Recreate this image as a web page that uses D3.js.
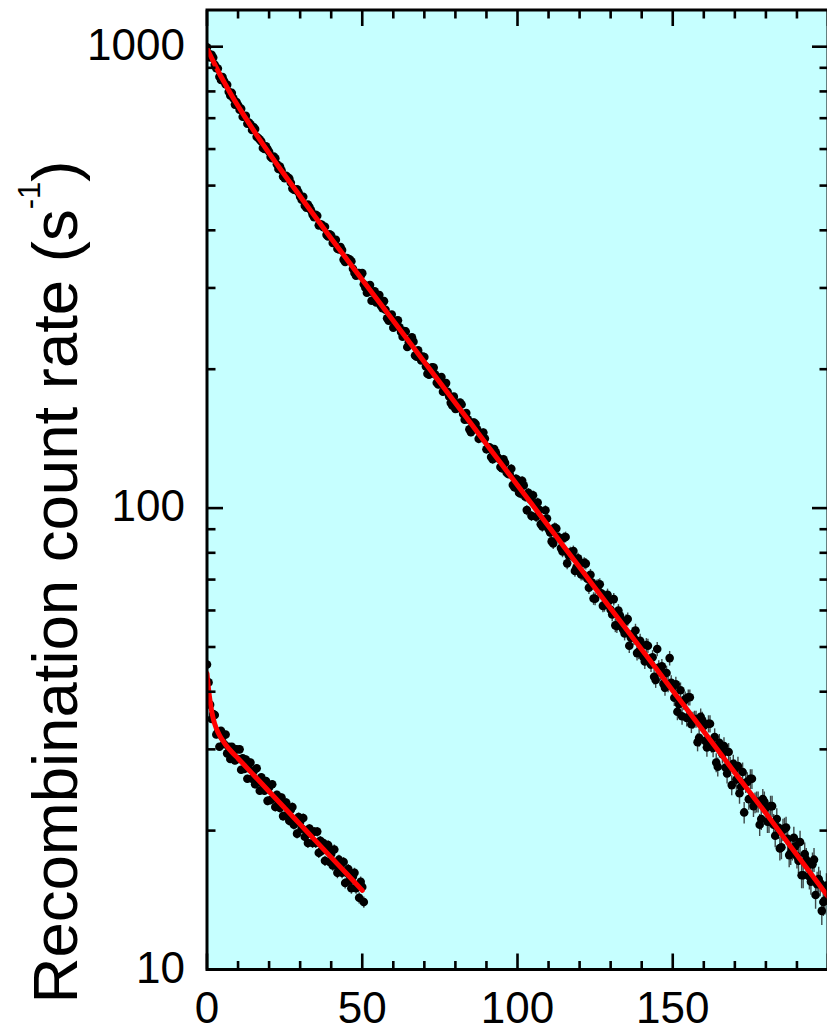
<!DOCTYPE html>
<html>
<head>
<meta charset="utf-8">
<script src="https://cdn.jsdelivr.net/npm/d3@7"></script>
<style>
  html, body { margin: 0; padding: 0; background: #fff; }
  svg { display: block; }
  text { font-family: "Liberation Sans", Arial, Helvetica, sans-serif; fill: #000; }
</style>
</head>
<body>
<svg id="chart" width="827" height="1031"></svg>
<script>
// Recombination count rate vs. storage time (s); two measurements.
// Upper run: half-second bins from t = 0 s.
const upperT0 = 0, upperDt = 0.5;
const upperRate = [
  997, 967, 948, 960, 947, 914, 898, 897, 861, 847,
  859, 843, 829, 827, 799, 784, 794, 773, 749, 759,
  747, 730, 734, 705, 704, 708, 681, 685, 679, 660,
  670, 663, 638, 634, 629, 623, 603, 600, 608, 600,
  592, 577, 573, 578, 573, 556, 543, 550, 540, 523,
  519, 525, 521, 518, 507, 493, 490, 489, 491, 483,
  473, 466, 473, 452, 448, 455, 449, 442, 433, 427,
  432, 430, 410, 412, 411, 406, 407, 391, 388, 392,
  389.6, 375.6, 378.4, 381.4, 364.8, 363.6, 368, 362.4, 345.6, 341.4,
  348.4, 347, 345.6, 342.8, 330.2, 323.2, 319, 323.2, 323.2, 318.9,
  323, 305.5, 300.3, 292.9, 300, 304.3, 281.4, 293.3, 295, 279,
  286.2, 289.7, 274.5, 271.3, 280.9, 269.1, 257.9, 254.9, 261.4, 262.8,
  246.1, 247.8, 254.6, 255.2, 246.5, 240.9, 235.3, 242.0, 241.5, 223.4,
  228.8, 230.3, 234.6, 229.5, 214.2, 212.9, 219.7, 213.9, 209.0, 213.1,
  212.6, 202.8, 195.5, 194.5, 200.8, 202.0, 201.6, 194.8, 187.0, 185.3,
  189.6, 192.3, 178.8, 180.1, 186.6, 178.6, 174.5, 169.1, 166.8, 174.4,
  164.1, 164.5, 168.4, 169.4, 167.7, 159.9, 155.5, 160.7, 155.7, 148.2,
  146.1, 153.0, 153.2, 152.2, 148.2, 141.3, 142.1, 142.0, 145.8, 141.5,
  134.1, 134.5, 135.4, 129.0, 127.6, 134.2, 132.1, 129.2, 127.9, 122.8,
  122.1, 127.6, 125.3, 119.5, 118.6, 118.6, 121.7, 112.2, 111.0, 115.7,
  115.1, 108.0, 107.6, 114.6, 112.0, 105.8, 99.0, 107.9, 104.7, 96.2,
  106.6, 102.2, 95.8, 102.8, 99.1, 92.3, 91.3, 94.2, 98.9, 94.9,
  90.1, 88.6, 84.7, 83.8, 90.7, 90.3, 86.5, 86.2, 81.9, 80.5,
  86.3, 86.6, 75.9, 79.0, 80.2, 78.9, 80.7, 73.1, 74.4, 77.8,
  75.9, 71.8, 71.9, 76.1, 75.8, 70.3, 67.2, 71.7, 69.0, 63.7,
  63.6, 67.9, 68.1, 68.4, 65.4, 61.4, 61.6, 62.6, 64.9, 63.0,
  60.2, 58.8, 63.5, 55.7, 55.5, 60.0, 58.5, 57.2, 54.6, 53.5,
  57.0, 57.5, 50.3, 52.4, 53.3, 52.3, 54.3, 48.5, 48.8, 51.6,
  50.5, 47.6, 46.5, 50.5, 50.3, 46.6, 45.8, 47.5, 43.1, 42.4,
  49.5, 45.1, 44.0, 45.4, 41.6, 40.8, 43.9, 41.5, 47.3, 41.8,
  41.0, 38.8, 41.5, 36.2, 37.6, 40.3, 35.4, 38.1, 38.5, 35.1,
  38.9, 38.9, 34.0, 34.7, 34.9, 34.9, 31.1, 31.8, 35.3, 34.7,
  33.7, 31.3, 30.3, 34.1, 34.1, 30.9, 30.2, 31.9, 28.1, 27.5,
  31.0, 30.1, 29.3, 30.5, 27.4, 26.6, 29.6, 27.6, 25.1, 27.9,
  27.2, 25.8, 27.6, 24.1, 24.9, 26.8, 21.9, 25.4, 25.5, 23.4,
  25.9, 25.9, 22.6, 23.0, 23.1, 23.1, 20.6, 21.2, 23.4, 23.1,
  22.4, 20.9, 20.9, 22.6, 22.6, 20.6, 19.5, 21.2, 20.3, 18.3,
  18.4, 20.1, 20.2, 20.3, 19.2, 17.7, 17.9, 18.3, 19.3, 18.5,
  17.6, 17.2, 18.9, 16.0, 16.0, 17.8, 17.3, 16.8, 15.9, 15.5,
  16.9, 17.3, 14.5, 15.3, 15.7, 15.4, 13.4, 14.0, 14.1, 15.2,
  14.9
];
// Lower run: half-second bins from t = 0 s.
const lowerT0 = 0, lowerDt = 0.5;
const lowerRate = [
  45.8, 41.9, 37.5, 34.9, 35.8, 35.6, 32.3, 32.7, 30.4, 32.9,
  31.9, 30.8, 32.3, 29.4, 30.4, 28.6, 30.4, 29.7, 28.4, 30.0,
  28.6, 30.0, 27.1, 28.7, 27.2, 28.5, 25.9, 27.3, 28.1, 25.9,
  26.9, 25.2, 27.3, 25.5, 24.4, 26.1, 25.2, 24.4, 25.6, 23.2,
  24.8, 23.3, 25.2, 23.5, 22.5, 23.9, 23.2, 22.4, 23.6, 21.5,
  22.7, 23.0, 21.7, 21.0, 22.2, 22.5, 20.6, 21.15, 19.7, 21.4,
  20.9, 20.2, 21.3, 19.4, 20.0, 18.8, 20.2, 19.7, 18.8, 19.9,
  18.8, 19.9, 17.9, 19.0, 18.1, 18.8, 17.2, 18.2, 18.6, 17.1,
  17.8, 16.8, 18.2, 16.8, 16.2, 17.3, 16.7, 16.2, 17.1, 15.4,
  16.2, 16.5, 15.6, 15.0, 15.9, 16.2, 15.0, 15.2, 14.3, 15.5,
  15.1, 14.0
];
// Effective exposure (s) used for the Poisson error bars of each run.
const upperExposure = 16;
const lowerExposure = 90;

// Fitted decay curves (red).
const upperFitT = [0, 2, 4, 6, 8, 10, 12, 15, 20, 25, 30, 40, 50, 60, 70, 80, 90, 100,
                   110, 120, 130, 140, 150, 160, 170, 180, 190, 200];
const upperFit  = [991, 930, 875, 827, 783, 744, 708, 659, 588, 527, 474, 384, 312.5, 254.6,
                   207.4, 169.0, 137.6, 112.1, 91.3, 74.4, 60.6, 49.4, 40.2, 32.8, 26.7,
                   21.8, 17.7, 14.4];
const lowerFitT = [0, 0.5, 1, 1.5, 2, 3, 4, 5, 6, 8, 10, 15, 20, 25, 30, 35, 40, 45, 50];
const lowerFit  = [43.8, 40.5, 38.1, 36.3, 35.0, 33.3, 32.2, 31.4, 30.7, 29.6, 28.67,
                   26.4, 24.32, 22.4, 20.63, 19.0, 17.5, 16.12, 14.84];

// Axis ticks
const xTicks = [0, 50, 100, 150];
const yTickLabels = ["10", "100", "1000"];
const yTicks = [10, 100, 1000];
const yTitle = "Recombination count rate (s";
const yTitleSup = "-1";

const svg = d3.select("#chart");
const plotL = 207, plotR = 828, plotT = 10, plotB = 969.5;

const x = d3.scaleLinear().domain([0, 200]).range([plotL, plotR]);
const y = d3.scaleLog().domain([10, 1201]).range([plotB, plotT]);

svg.append("defs").append("clipPath").attr("id", "plotClip")
  .append("rect").attr("x", plotL).attr("y", plotT)
  .attr("width", plotR - plotL).attr("height", plotB - plotT);

// Plot background
svg.append("rect").attr("x", plotL).attr("y", plotT)
  .attr("width", plotR - plotL).attr("height", plotB - plotT)
  .attr("fill", "#c6ffff");

const plot = svg.append("g").attr("clip-path", "url(#plotClip)");

function seriesPoints(rates, t0, dt, exposure) {
  return rates.map((r, i) => {
    const s = Math.sqrt(r * exposure) / exposure;
    return { t: t0 + i * dt, r, lo: r - s, hi: r + s };
  });
}
const upperPts = seriesPoints(upperRate, upperT0, upperDt, upperExposure);
const lowerPts = seriesPoints(lowerRate, lowerT0, lowerDt, lowerExposure);
const allPts = upperPts.concat(lowerPts);

// Error bars
plot.append("g").selectAll("line").data(allPts).join("line")
  .attr("x1", d => x(d.t)).attr("x2", d => x(d.t))
  .attr("y1", d => y(d.lo)).attr("y2", d => y(d.hi))
  .attr("stroke", "#1a1a1a").attr("stroke-opacity", 0.8).attr("stroke-width", 1.4);

// Data points
plot.append("g").selectAll("circle").data(allPts).join("circle")
  .attr("cx", d => x(d.t)).attr("cy", d => y(d.r))
  .attr("r", 4.3).attr("fill", "#000");

// Fit curves
const fitLine = d3.line().x(d => x(d[0])).y(d => y(d[1])).curve(d3.curveMonotoneX);
[[upperFitT, upperFit], [lowerFitT, lowerFit]].forEach(([ts, vs]) => {
  plot.append("path")
    .datum(ts.map((t, i) => [t, vs[i]]))
    .attr("d", fitLine)
    .attr("fill", "none").attr("stroke", "#ff0000")
    .attr("stroke-width", 5).attr("stroke-linecap", "round").attr("stroke-linejoin", "round");
});

// Ticks (all pointing into the plot)
const tickW = 2.6, majorLen = 16, minorLen = 8.5;
const xMinor = d3.range(0, 201, 10).filter(v => v % 50 !== 0);
const xMajor = d3.range(0, 201, 50);
const yMinor = [];
[10, 100, 1000].forEach(dec => { for (let k = 2; k <= 9; k++) { if (dec * k <= 1201) yMinor.push(dec * k); } });

const ticks = svg.append("g").attr("stroke", "#000").attr("stroke-width", tickW);
function vTicks(vals, len) {
  vals.forEach(v => {
    ticks.append("line").attr("x1", x(v)).attr("x2", x(v)).attr("y1", plotB).attr("y2", plotB - len);
    ticks.append("line").attr("x1", x(v)).attr("x2", x(v)).attr("y1", plotT).attr("y2", plotT + len);
  });
}
function hTicks(vals, len) {
  vals.forEach(v => {
    ticks.append("line").attr("y1", y(v)).attr("y2", y(v)).attr("x1", plotL).attr("x2", plotL + len);
    ticks.append("line").attr("y1", y(v)).attr("y2", y(v)).attr("x1", plotR).attr("x2", plotR - len);
  });
}
vTicks(xMajor, majorLen); vTicks(xMinor, minorLen);
hTicks(yTicks, majorLen); hTicks(yMinor, minorLen);

// Frame
svg.append("rect").attr("x", plotL).attr("y", plotT)
  .attr("width", plotR - plotL).attr("height", plotB - plotT)
  .attr("fill", "none").attr("stroke", "#000").attr("stroke-width", 3);

// Tick labels
svg.append("g").selectAll("text").data(xTicks).join("text")
  .attr("x", d => x(d)).attr("y", 1023)
  .attr("text-anchor", "middle").attr("font-size", 44)
  .text(d => d);
svg.append("g").selectAll("text").data(yTicks).join("text")
  .attr("x", 185).attr("y", d => y(d) + 13)
  .attr("text-anchor", "end").attr("font-size", 44)
  .text((d, i) => yTickLabels[i]);

// Axis title
const title = svg.append("text")
  .attr("transform", "translate(77,582) rotate(-90)")
  .attr("text-anchor", "middle").attr("font-size", 63.5);
title.append("tspan").text(yTitle);
title.append("tspan").attr("font-size", 31).attr("dy", -37).text(yTitleSup);
title.append("tspan").attr("dy", 37).text(")");
</script>
</body>
</html>
